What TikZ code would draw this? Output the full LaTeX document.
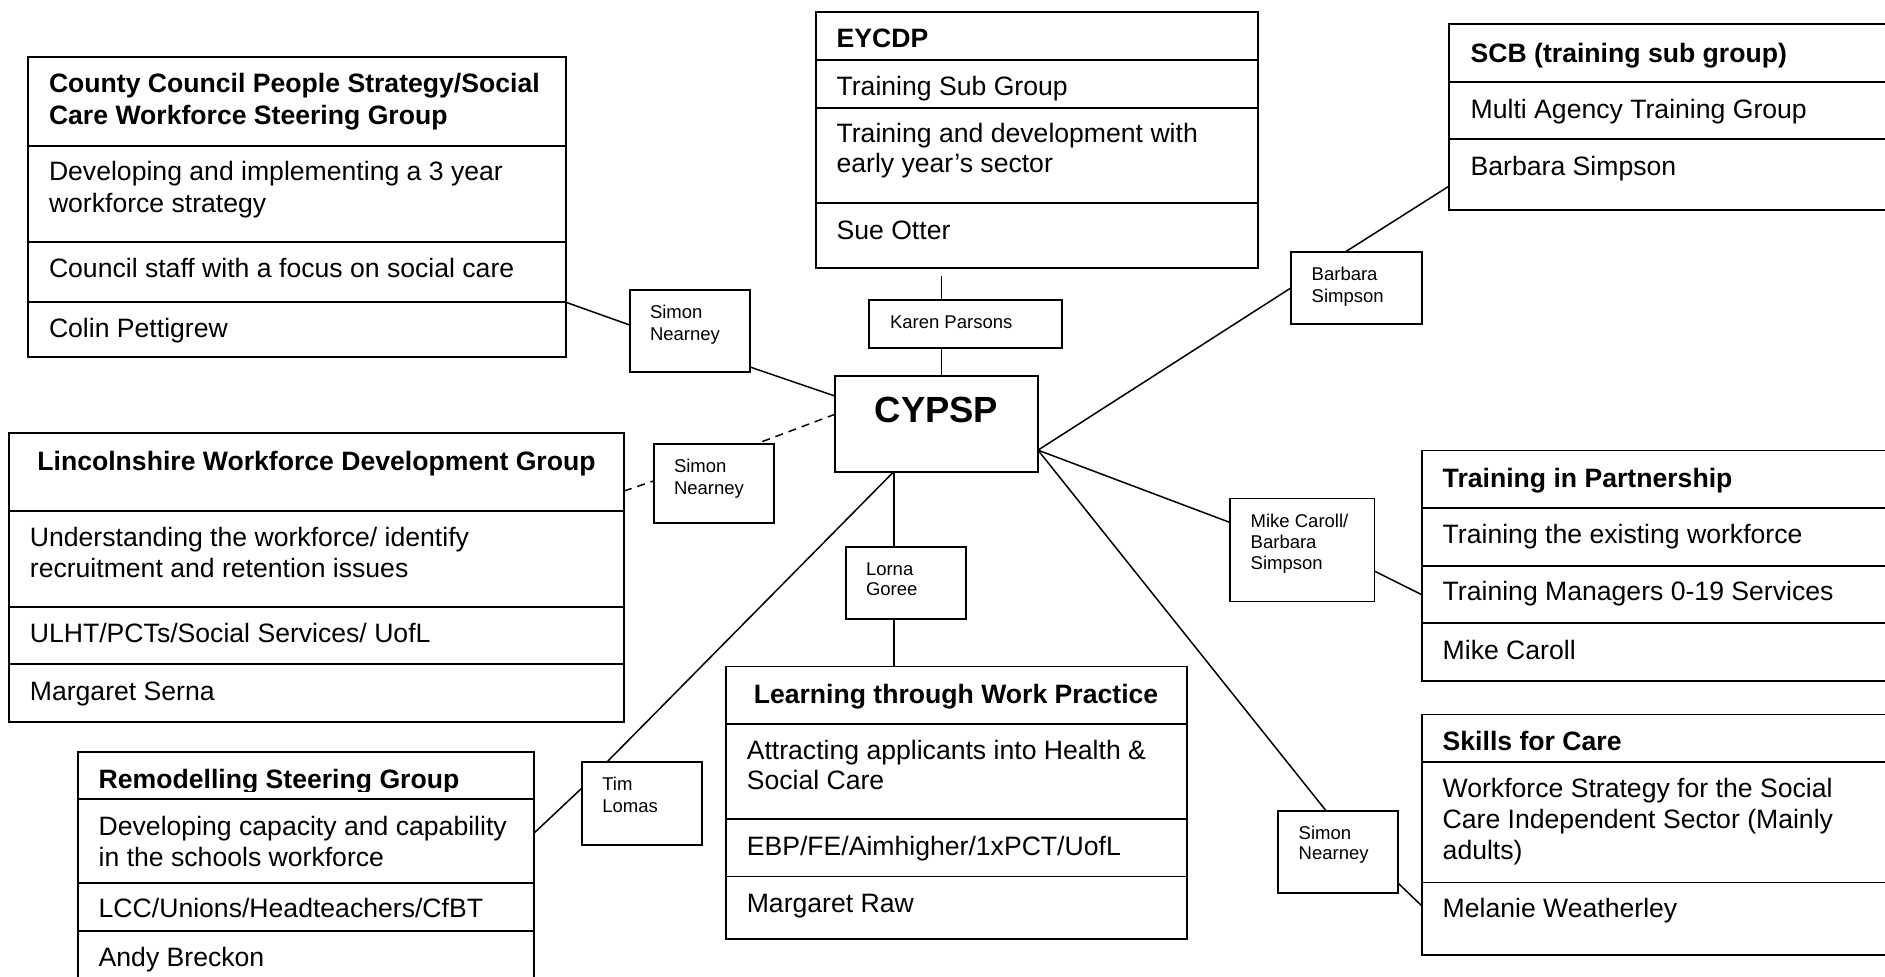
\documentclass[tikz,border=0pt]{standalone}
\usepackage{fontspec}
\setmainfont{Liberation Sans}
\usetikzlibrary{fit}
\begin{document}
\begin{tikzpicture}[x=0.5pt,y=-0.5pt,
  bx/.style={draw, line width=0.9pt, inner sep=0pt, outer sep=0pt},
  ln/.style={line width=0.75pt},
  dl/.style={line width=0.75pt, dash pattern=on 4pt off 3pt},
  tx/.style={inner sep=0pt, outer sep=0pt, anchor=base west, font=\fontsize{13.3pt}{15.4pt}\selectfont},
  tb/.style={tx, font=\fontsize{13.3pt}{15.4pt}\selectfont\bfseries},
  ts/.style={tx, font=\fontsize{9.25pt}{11pt}\selectfont},
]
\useasboundingbox (0,0) rectangle (1885,976);
\clip (0,0) rectangle (1885,976);

% ---------- County Council box ----------
\node[bx, fit={(28,57.3) (566,145.7)}] (cc1) {};
\node[bx, fit={(28,145.7) (566,241.7)}] (cc2) {};
\node[bx, fit={(28,241.7) (566,302.3)}] (cc3) {};
\node[bx, fit={(28,302.3) (566,356.7)}] (cc4) {};
\node[tb] (cct1) at (49,92.3) {County Council People Strategy/Social};
\node[tb] (cct2) at (49,124) {Care Workforce Steering Group};
\node[tx] (cct3) at (49,180.7) {Developing and implementing a 3 year};
\node[tx] (cct4) at (49,212.3) {workforce strategy};
\node[tx] (cct5) at (49,277.3) {Council staff with a focus on social care};
\node[tx] (cct6) at (49,337.3) {Colin Pettigrew};

% ---------- EYCDP box ----------
\node[bx, fit={(815.6,11.7) (1257.6,60)}] (ey1) {};
\node[bx, fit={(815.6,60) (1257.6,107.7)}] (ey2) {};
\node[bx, fit={(815.6,107.7) (1257.6,203.3)}] (ey3) {};
\node[bx, fit={(815.6,203.3) (1257.6,267.7)}] (ey4) {};
\node[tb] (eyt1) at (836.6,47.3) {EYCDP};
\node[tx] (eyt2) at (836.6,95) {Training Sub Group};
\node[tx] (eyt3) at (836.6,142.3) {Training and development with};
\node[tx] (eyt4) at (836.6,172.3) {early year’s sector};
\node[tx] (eyt5) at (836.6,239) {Sue Otter};

% ---------- SCB box ----------
\node[bx, fit={(1449.3,24) (1900,81.7)}] (scb1) {};
\node[bx, fit={(1449.3,81.7) (1900,139.3)}] (scb2) {};
\node[bx, fit={(1449.3,139.3) (1900,210)}] (scb3) {};
\node[tb] (scbt1) at (1470.7,62.3) {SCB (training sub group)};
\node[tx] (scbt2) at (1470.7,118.3) {Multi Agency Training Group};
\node[tx] (scbt3) at (1470.7,175.7) {Barbara Simpson};

% ---------- Lincolnshire box ----------
\node[bx, fit={(9,433.3) (624,510.7)}] (li1) {};
\node[bx, fit={(9,510.7) (624,606.7)}] (li2) {};
\node[bx, fit={(9,606.7) (624,664.3)}] (li3) {};
\node[bx, fit={(9,664.3) (624,722.3)}] (li4) {};
\node[tb, anchor=base] (lit1) at (316.5,470.7) {Lincolnshire Workforce Development Group};
\node[tx] (lit2) at (29.9,546.3) {Understanding the workforce/ identify};
\node[tx] (lit3) at (29.9,577.3) {recruitment and retention issues};
\node[tx] (lit4) at (29.9,642.3) {ULHT/PCTs/Social Services/ UofL};
\node[tx] (lit5) at (29.9,700) {Margaret Serna};

% ---------- Learning box ----------
\node[bx, fit={(725.8,666.5) (1186.6,724)}] (lw1) {};
\node[bx, fit={(725.8,724) (1186.6,818.9)}] (lw2) {};
\node[bx, fit={(725.8,818.9) (1186.6,876.5)}] (lw3) {};
\node[bx, fit={(725.8,876.5) (1186.6,939.3)}] (lw4) {};
\node[tb, anchor=base] (lwt1) at (956,703) {Learning through Work Practice};
\node[tx] (lwt2) at (746.8,759) {Attracting applicants into Health \&};
\node[tx] (lwt3) at (746.8,789.2) {Social Care};
\node[tx] (lwt4) at (746.8,855.4) {EBP/FE/Aimhigher/1xPCT/UofL};
\node[tx] (lwt5) at (746.8,912.3) {Margaret Raw};

% ---------- Remodelling box ----------
\node[bx, fit={(78,751.7) (533.8,799.3)}] (rm1) {};
\node[bx, fit={(78,799.3) (533.8,883.3)}] (rm2) {};
\node[bx, fit={(78,883.3) (533.8,930.7)}] (rm3) {};
\node[bx, fit={(78,930.7) (533.8,995)}] (rm4) {};
\begin{scope}
\clip (78,752) rectangle (533,791.5);
\node[tb] (rmt1) at (98.7,788.5) {Remodelling Steering Group};
\end{scope}
\node[tx] (rmt2) at (98.7,835) {Developing capacity and capability};
\node[tx] (rmt3) at (98.7,866) {in the schools workforce};
\node[tx] (rmt4) at (98.7,917.5) {LCC/Unions/Headteachers/CfBT};
\node[tx] (rmt5) at (98.7,966.3) {Andy Breckon};

% ---------- Training in Partnership box ----------
\node[bx, fit={(1421.7,450.5) (1900,508)}] (tp1) {};
\node[bx, fit={(1421.7,508) (1900,566)}] (tp2) {};
\node[bx, fit={(1421.7,566) (1900,623.3)}] (tp3) {};
\node[bx, fit={(1421.7,623.3) (1900,681)}] (tp4) {};
\node[tb] (tpt1) at (1442.7,487) {Training in Partnership};
\node[tx] (tpt2) at (1442.7,543.5) {Training the existing workforce};
\node[tx] (tpt3) at (1442.7,600.7) {Training Managers 0-19 Services};
\node[tx] (tpt4) at (1442.7,659) {Mike Caroll};

% ---------- Skills for Care box ----------
\node[bx, fit={(1421.7,714.5) (1900,762.3)}] (sk1) {};
\node[bx, fit={(1421.7,762.3) (1900,882.5)}] (sk2) {};
\node[bx, fit={(1421.7,882.5) (1900,955)}] (sk3) {};
\node[tb] (skt1) at (1442.7,750) {Skills for Care};
\node[tx] (skt2) at (1442.7,797.3) {Workforce Strategy for the Social};
\node[tx] (skt3) at (1442.7,828.3) {Care Independent Sector (Mainly};
\node[tx] (skt4) at (1442.7,859) {adults)};
\node[tx] (skt5) at (1442.7,917.3) {Melanie Weatherley};

% ---------- centre ----------
\node[bx, fit={(835.3,376.3) (1038,472)}] (cyp) {};
\node[inner sep=0pt, anchor=base, font=\fontsize{18.2pt}{20pt}\selectfont\bfseries] (cypt) at (936.5,422.7) {CYPSP};

% ---------- small link boxes ----------
\node[bx, fit={(629.7,290) (750,372)}] (sn1) {};
\node[ts] (sn1a) at (650,318.2) {Simon};
\node[ts] (sn1b) at (650,340.5) {Nearney};

\node[bx, fit={(869,300) (1062,347.7)}] (kp) {};
\node[ts] (kpa) at (890,328.2) {Karen Parsons};

\node[bx, fit={(653.7,444) (774,522.7)}] (sn2) {};
\node[ts] (sn2a) at (674,472.5) {Simon};
\node[ts] (sn2b) at (674,494.2) {Nearney};

\node[bx, fit={(1291,251.7) (1422.3,324)}] (bs) {};
\node[ts] (bsa) at (1311.7,280.5) {Barbara};
\node[ts] (bsb) at (1311.7,302.2) {Simpson};

\node[bx, fit={(1229.8,498.4) (1374.4,601.4)}] (mc) {};
\node[ts] (mca) at (1250.7,527.2) {Mike Caroll/};
\node[ts] (mcb) at (1250.7,548.2) {Barbara};
\node[ts] (mcc) at (1250.7,569.8) {Simpson};

\node[bx, fit={(845.7,546.7) (966,619)}] (lg) {};
\node[ts] (lga) at (866,575.5) {Lorna};
\node[ts] (lgb) at (866,595.8) {Goree};

\node[bx, fit={(581.7,762.3) (702,845)}] (tl) {};
\node[ts] (tla) at (602.3,790.8) {Tim};
\node[ts] (tlb) at (602.3,812.2) {Lomas};

\node[bx, fit={(1277.7,810.7) (1398.3,892.8)}] (sn3) {};
\node[ts] (sn3a) at (1298.7,839.2) {Simon};
\node[ts] (sn3b) at (1298.7,859.8) {Nearney};

% ---------- connectors ----------
\draw[ln] (cc4.north east) -- ([yshift=3pt]sn1.west);
\draw[ln] ([yshift=2.5pt]sn1.south east) -- ([yshift=14pt]cyp.west);
\draw[dl] ([yshift=5pt]cyp.west) -- ([xshift=21pt]sn2.north);
\draw[dl] ([yshift=-9.5pt]li1.east) -- ([yshift=1.2pt]sn2.west);

\coordinate (kpA) at ([xshift=-12pt]kp.north);
\coordinate (kpB) at ([xshift=-12pt]kp.south);
\draw[ln] (kpA) -- ++(0,12.2pt);
\draw[ln] (kpB) -- (kpB |- cyp.north);

\draw[ln] ([yshift=-13pt]cyp.east) -- (bs.west);
\draw[ln] ([xshift=-5.5pt]bs.north) -- ([yshift=-5.65pt]scb3.west);
\draw[ln] ([yshift=-13pt]cyp.east) -- ([yshift=13.75pt]mc.west);
\draw[ln] ([yshift=-10.6pt]mc.east) -- (tp3.west);
\draw[ln] ([yshift=-13pt]cyp.east) -- ([xshift=-6pt]sn3.north);
\draw[ln] ([yshift=-15.8pt]sn3.east) -- ([yshift=6.5pt]sk3.west);

\coordinate (lgA) at ([xshift=-6pt]lg.north);
\coordinate (lgB) at ([xshift=-6pt]lg.south);
\draw[ln] (lgA |- cyp.south) -- (lgA);
\draw[ln] (lgB) -- (lgB |- lw1.north);

\draw[ln] ([xshift=-21.6pt]cyp.south) -- ([xshift=-17.6pt]tl.north);
\draw[ln] ([yshift=7.7pt]tl.west) -- ([yshift=4pt]rm2.east);
\end{tikzpicture}
\end{document}
